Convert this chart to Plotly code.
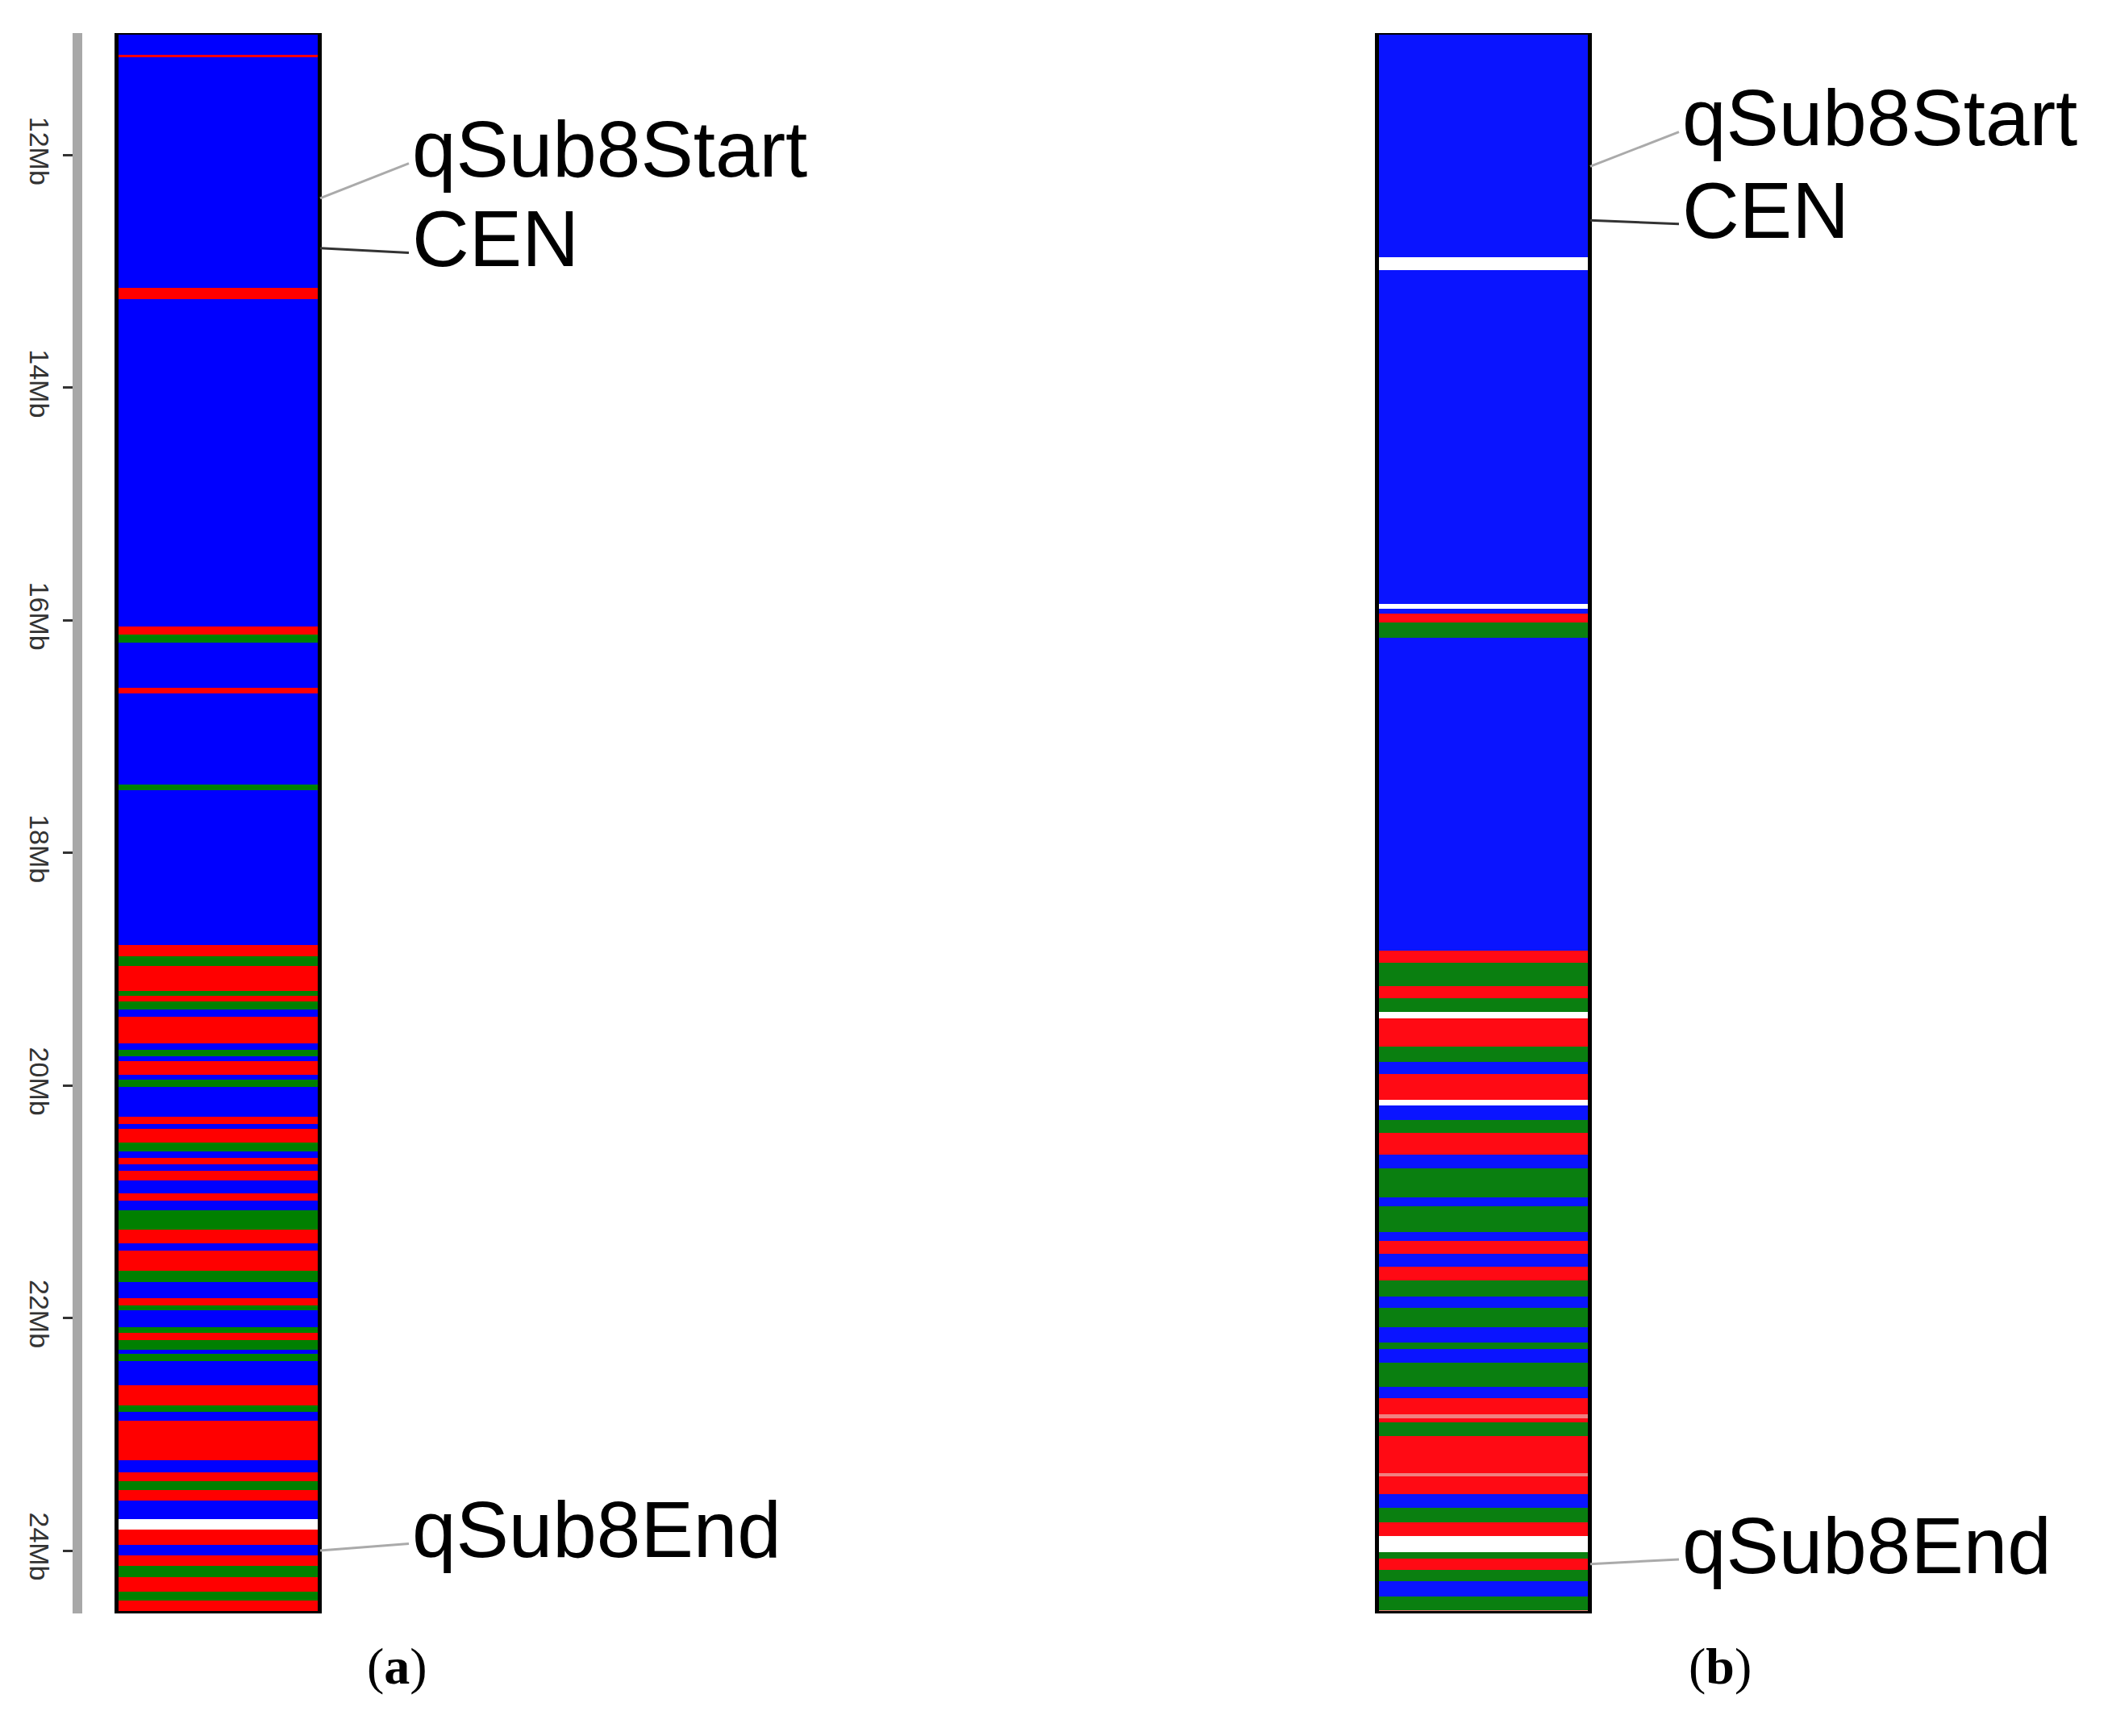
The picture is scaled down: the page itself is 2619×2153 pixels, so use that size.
import plotly.graph_objects as go

# Panel (a) band boundaries (Mb) and colours
a_bounds = [10.95, 11.14, 11.16, 13.14, 13.24, 16.05, 16.12, 16.19, 16.58, 16.63, 17.41, 17.46,
            18.79, 18.89, 18.97, 19.19, 19.23, 19.28, 19.35, 19.41, 19.64, 19.69,
            19.75, 19.79, 19.91, 19.95, 20.01, 20.27, 20.33, 20.37, 20.49, 20.57,
            20.62, 20.68, 20.73, 20.82, 20.93, 20.99, 21.07, 21.24, 21.36, 21.42,
            21.59, 21.69, 21.83, 21.89, 21.93, 22.08, 22.13, 22.19, 22.27, 22.31,
            22.37, 22.58, 22.75, 22.81, 22.88, 23.22, 23.33, 23.40, 23.48, 23.57,
            23.73, 23.82, 23.95, 24.04, 24.13, 24.23, 24.35, 24.43, 24.54]
a_codes = list("BRBRBRGBRBGB"
               "RGRGRGBRBG" "BRBGBRBRGB" "RBRBRBGRBR" "GBRGBGRGBG" "BRGBRBRGRB" "WRBRGRGR")

# Panel (b)
b_bounds = [10.86, 12.81, 12.92, 15.83, 15.87, 15.91, 15.99, 16.12, 18.84, 18.95,
            19.15, 19.26, 19.38, 19.43, 19.68, 19.81, 19.92, 20.14, 20.19, 20.32,
            20.43, 20.62, 20.74, 20.99, 21.07, 21.29, 21.37, 21.48, 21.59, 21.71,
            21.85, 21.95, 22.12, 22.25, 22.31, 22.43, 22.64, 22.74, 22.88, 22.91,
            22.95, 23.07, 23.39, 23.42, 23.57, 23.69, 23.82, 23.94, 24.08, 24.13,
            24.23, 24.33, 24.46, 24.58, 24.60, 24.61]
b_codes = list("BWBWBRGB" "RGRGWRGBRW" "BGRBGBGBRB" "RGBGBGBGBR" "PRGRPRBGRW" "GRGBGPR")

tick_vals = [12, 14, 16, 18, 20, 22, 24]
tick_text = ["12Mb", "14Mb", "16Mb", "18Mb", "20Mb", "22Mb", "24Mb"]

# markers: (label, position on bar in Mb, label position in Mb)
a_marks = [("qSub8Start", 12.37, 11.95, "#aaaaaa"), ("CEN", 12.80, 12.72, "#333333"),
           ("qSub8End", 24.00, 23.82, "#aaaaaa")]
b_marks = [("qSub8Start", 12.02, 11.60, "#aaaaaa"), ("CEN", 12.49, 12.40, "#333333"),
           ("qSub8End", 24.18, 24.02, "#aaaaaa")]

pal_a = {"B": "#0000ff", "R": "#ff0000", "G": "#008000", "W": "#ffffff", "P": "#f08080"}
pal_b = {"B": "#0a14ff", "R": "#ff0a14", "G": "#0a7f10", "W": "#ffffff", "P": "#f08080"}

W, H = 2619, 2153
A_X, A_W = 263, 252
B_X, B_W = 1832, 264

fig = go.Figure()

def add_panel(bounds, codes, pal, xc, wd, yax):
    starts = bounds[:-1]
    lens = [e - s for s, e in zip(bounds[:-1], bounds[1:])]
    fig.add_trace(go.Bar(x=[xc] * len(starts), base=starts, y=lens, width=wd,
                         marker=dict(color=[pal[c] for c in codes], line=dict(width=0)),
                         yaxis=yax, showlegend=False, hoverinfo="skip"))
    fig.add_trace(go.Bar(x=[xc], base=[bounds[0]], y=[bounds[-1] - bounds[0]], width=wd,
                         marker=dict(color="rgba(0,0,0,0)", line=dict(width=5, color="black")),
                         yaxis=yax, showlegend=False, hoverinfo="skip"))

add_panel(a_bounds, a_codes, pal_a, A_X, A_W, "y")
add_panel(b_bounds, b_codes, pal_b, B_X, B_W, "y2")

def add_marks(marks, xc, wd, yax, xref):
    x0 = xc + wd / 2
    tx = x0 + 110
    for label, pos, lpos, col in marks:
        fig.add_trace(go.Scatter(x=[x0, tx], y=[pos, lpos + 0.12], mode="lines",
                                 line=dict(color=col, width=3), yaxis=yax,
                                 showlegend=False, hoverinfo="skip"))
        fig.add_annotation(x=tx + 2, y=lpos, xref="x", yref=xref, text=label,
                           showarrow=False, xanchor="left", yanchor="middle",
                           font=dict(family="Liberation Sans, Arial", size=98, color="black"))

add_marks(a_marks, A_X, A_W, "y", "y")
add_marks(b_marks, B_X, B_W, "y2", "y2")

for txt, xp in [("(<b>a</b>)", 484), ("(<b>b</b>)", 2125)]:
    fig.add_annotation(x=xp, y=1 - 2096 / H, xref="x", yref="paper", text=txt,
                       showarrow=False, font=dict(family="Liberation Serif, Times New Roman",
                                                  size=64, color="black"))

fig.update_layout(
    width=W, height=H, margin=dict(l=0, r=0, t=0, b=0),
    plot_bgcolor="white", paper_bgcolor="white", barmode="overlay", bargap=0,
    xaxis=dict(range=[0, W], visible=False, domain=[0, 1]),
    yaxis=dict(range=[24.54, 10.95], domain=[1 - 1993 / H, 1 - 33 / H],
               anchor="free", position=88 / W, showline=True, linecolor="#a8a8a8",
               linewidth=12, showgrid=False, zeroline=False, tickvals=tick_vals,
               ticktext=tick_text, tickangle=90, ticks="outside", ticklen=12,
               tickcolor="#333333", tickwidth=3,
               tickfont=dict(family="Liberation Sans, Arial", size=34, color="#333333")),
    yaxis2=dict(range=[24.61, 10.86], domain=[1 - 2004 / H, 1 - 20 / H],
                anchor="free", position=0.5, overlaying="y", visible=False),
)

fig.write_html("out.html")
